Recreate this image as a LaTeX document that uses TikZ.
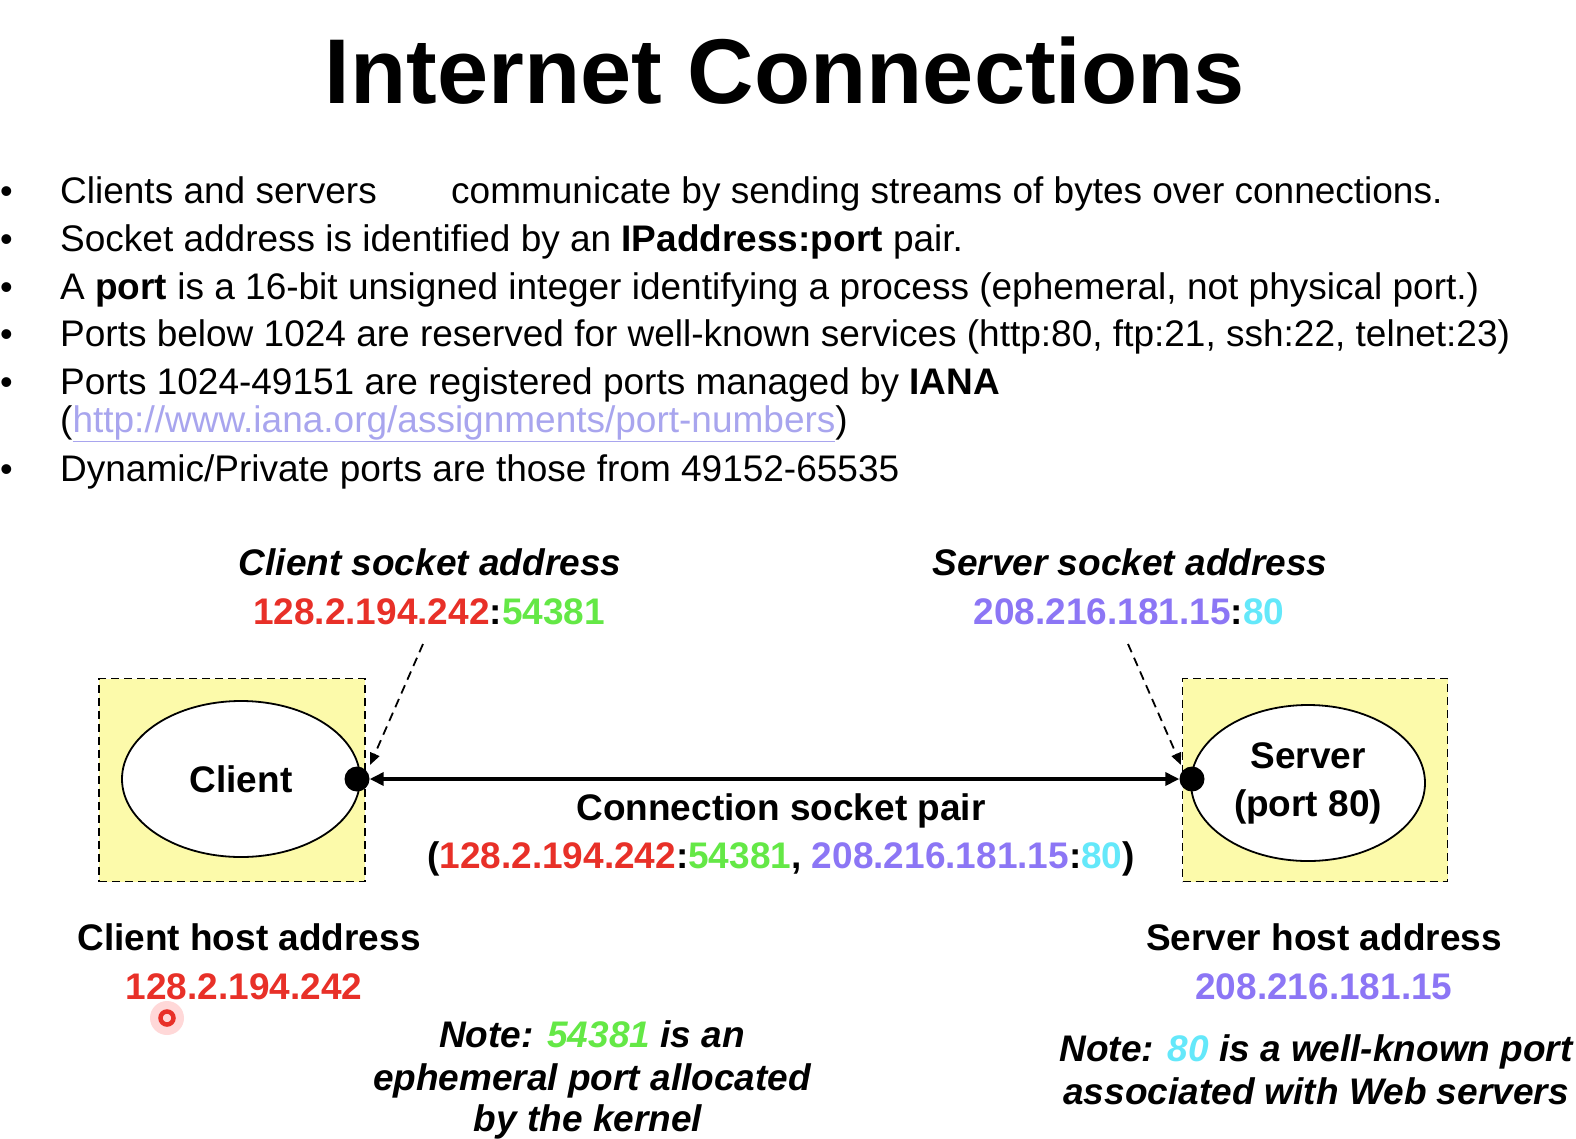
\documentclass[tikz,border=0pt]{standalone}
\usepackage{fontspec}
\setmainfont{Liberation Sans}
\usetikzlibrary{arrows.meta,shapes.geometric}
\definecolor{ipred}{RGB}{232,48,40}
\definecolor{ipgreen}{RGB}{100,232,70}
\definecolor{ippurple}{RGB}{140,118,245}
\definecolor{ipcyan}{RGB}{100,232,250}
\definecolor{linkc}{RGB}{168,165,238}
\definecolor{boxyellow}{RGB}{252,250,170}
\tikzset{
  bul/.style={anchor=base west,inner sep=0pt,font=\fontsize{37}{42}\selectfont},
  lbl/.style={anchor=base,inner sep=0pt,font=\fontsize{37}{44}\selectfont\bfseries},
  ilbl/.style={anchor=base,inner sep=0pt,font=\fontsize{37}{44}\selectfont\bfseries\itshape},
  hostbox/.style={draw,dashed,dash pattern=on 8pt off 5pt,line width=1.8pt,fill=boxyellow},
  hostell/.style={draw,ellipse,line width=1.8pt,fill=white},
  sockdot/.style={circle,fill=black,inner sep=0pt,minimum size=25pt},
  ptr/.style={dashed,dash pattern=on 9pt off 6pt,line width=1.8pt,-{Triangle[length=12pt,width=10pt]}},
}
\begin{document}
\begin{tikzpicture}[x=1pt,y=-1pt]
\useasboundingbox[fill=white] (0,0) rectangle (1576,1138);
% title
\node[anchor=base,inner sep=0pt,font=\fontsize{92}{100}\selectfont\bfseries] (title) at (785,103) {Internet Connections};
% bullets
\foreach \yy/\nm in {203/b1,251/b2,299/b3,346/b4,394/b5,481/b6}
  \node[anchor=base west,inner sep=0pt,font=\fontsize{36}{40}\selectfont] (\nm dot) at (0,\yy) {•};
\node[bul] (t1a) at (60,203) {Clients and servers};
\node[bul] (t1b) at (451,203) {communicate by sending streams of bytes over connections.};
\node[bul] (t2) at (60,251) {Socket address is identified by an \textbf{IPaddress:port} pair.};
\node[bul] (t3) at (60,299) {A \textbf{port} is a 16-bit unsigned integer identifying a process (ephemeral, not physical port.)};
\node[bul] (t4) at (60,346) {Ports below 1024 are reserved for well-known services (http:80, ftp:21, ssh:22, telnet:23)};
\node[bul] (t5) at (60,394) {Ports 1024-49151 are registered ports managed by \textbf{IANA}};
\node[bul] (t5b) at (60,432) {({\color{linkc}\underline{http://www.iana.org/assignments/port-numbers}})};
\node[bul] (t6) at (60,481) {Dynamic/Private ports are those from 49152-65535};
% host boxes
\node[hostbox,minimum width=266pt,minimum height=203pt,inner sep=0pt] (cbox) at (232,780) {};
\node[hostbox,minimum width=265pt,minimum height=203pt,inner sep=0pt] (sbox) at (1315,780) {};
\node[hostell,minimum width=238pt,minimum height=156pt,inner sep=0pt,font=\fontsize{37}{44}\selectfont\bfseries] (client) at (241,779) {Client};
\node[hostell,minimum width=234pt,minimum height=156pt,inner sep=0pt,font=\fontsize{37}{48}\selectfont\bfseries,align=center] (server) at (1308,783) {Server\\(port 80)};
\node[sockdot] (cdot) at (357,779) {};
\node[sockdot] (sdot) at (1192,779) {};
\draw[line width=4pt,{Triangle[length=14pt,width=13pt]}-{Triangle[length=14pt,width=13pt]}] (cdot.east) -- (sdot.west);
% socket address labels
\node[ilbl] (csa) at (430,575) {Client socket address};
\node[lbl] (csaip) at (429,624) {\textcolor{ipred}{128.2.194.242}:\textcolor{ipgreen}{54381}};
\node[ilbl] (ssa) at (1130,575) {Server socket address};
\node[lbl] (ssaip) at (1129,624) {\textcolor{ippurple}{208.216.181.15}:\textcolor{ipcyan}{80}};
\coordinate (cptrs) at (423,644);
\coordinate (cptre) at (370,765);
\coordinate (sptrs) at (1128,644);
\coordinate (sptre) at (1181,765);
\draw[ptr] (cptrs) -- (cptre);
\draw[ptr] (sptrs) -- (sptre);
% connection pair
\node[lbl] (cpair) at (781,820) {Connection socket pair};
\node[lbl] (cpairip) at (781,868) {(\textcolor{ipred}{128.2.194.242}:\textcolor{ipgreen}{54381}, \textcolor{ippurple}{208.216.181.15}:\textcolor{ipcyan}{80})};
% host addresses
\node[lbl] (cha) at (249,950) {Client host address};
\node[lbl] (chaip) at (244,999) {\textcolor{ipred}{128.2.194.242}};
\node[lbl] (sha) at (1324,950) {Server host address};
\node[lbl] (shaip) at (1324,999) {\textcolor{ippurple}{208.216.181.15}};
% notes
\node[ilbl] (n1a) at (592,1047) {Note: \textcolor{ipgreen}{54381} is an};
\node[ilbl] (n1b) at (592,1090) {ephemeral port allocated};
\node[ilbl] (n1c) at (588,1131) {by the kernel};
\node[ilbl] (n2a) at (1316,1061) {Note: \textcolor{ipcyan}{80} is a well-known port};
\node[ilbl] (n2b) at (1316,1104) {associated with Web servers};
% cursor mark
\fill[red!60,opacity=0.25] (167,1018) circle (17pt);
\draw[ipred,line width=4.5pt] (167,1018) circle (6.5pt);
\end{tikzpicture}
\end{document}
